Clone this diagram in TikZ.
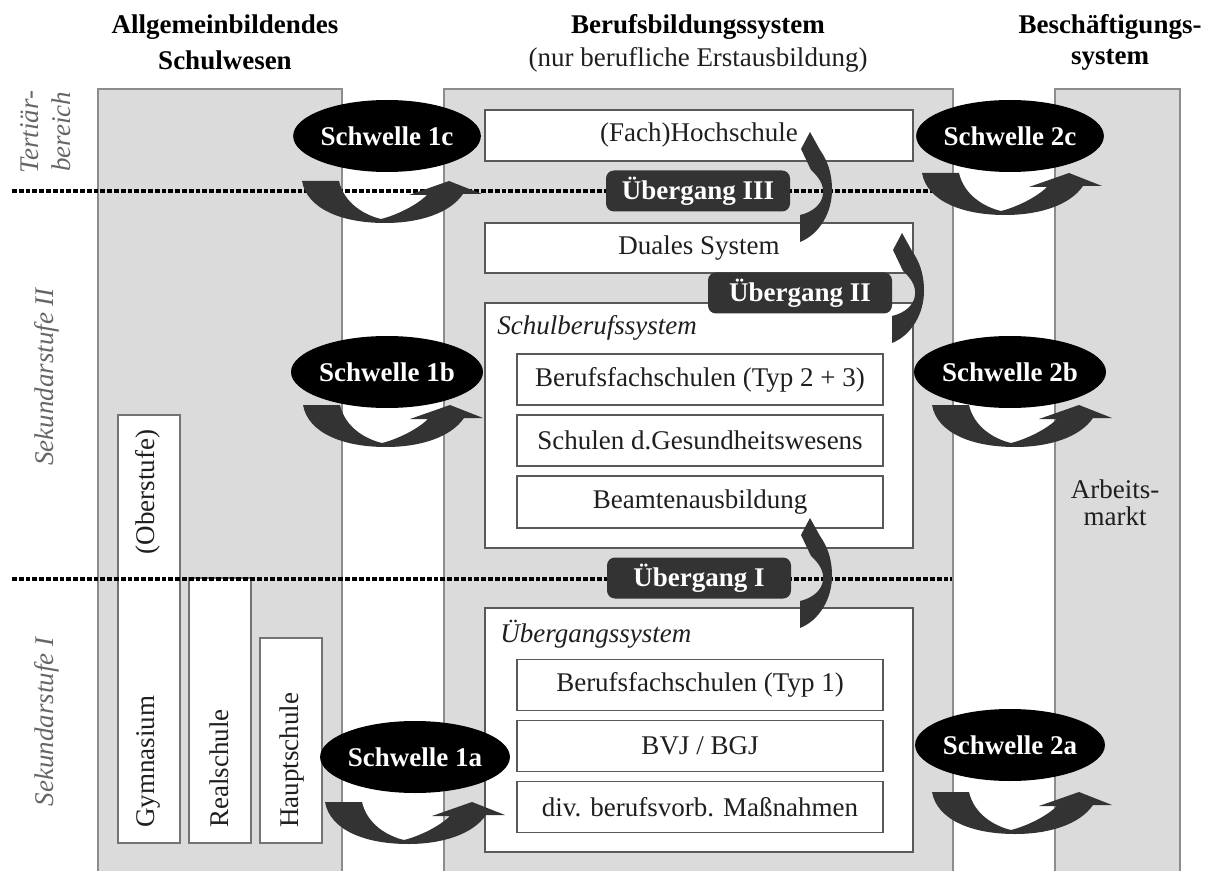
\documentclass[tikz,border=0pt]{standalone}
\usepackage{fontspec}
\setmainfont{Liberation Serif}
\usetikzlibrary{shapes.geometric}

\begin{document}
\begin{tikzpicture}[x=0.5pt,y=-0.5pt,
  every node/.style={font=\fontsize{13.5}{15}\selectfont,text=black!88,inner sep=0pt},
  column/.style={fill=black!14,draw=black!45,line width=0.8pt},
  box/.style={draw=black!65,fill=white,line width=0.6pt,
    minimum width=214pt,minimum height=25.5pt},
  subbox/.style={box,minimum width=183pt},
  schoolbox/.style={draw=black!55,fill=white,line width=0.6pt,minimum width=31pt},
  schwelle/.style={ellipse,fill=black,text=white,
    font=\fontsize{13.5}{15}\selectfont\bfseries,
    minimum width=87.5pt,minimum height=36pt},
  uebergang/.style={fill=black!80,rounded corners=4pt,text=white,
    font=\fontsize{13.5}{15}\selectfont\bfseries,
    minimum width=92pt,minimum height=20.5pt},
  stage/.style={rotate=90,align=center,text=black!60,
    font=\fontsize{13.5}{16}\selectfont\itshape},
  head/.style={font=\fontsize{13.5}{15}\selectfont\bfseries,text=black},
  dots/.style={line width=1.7pt,dash pattern=on 2.4pt off 1pt},
  uarrow/.pic={
    \fill[black!80] (0,0) -- (37,0) .. controls (42,22) and (62,34) .. (79,38)
      .. controls (95,34) and (115,24) .. (125,14) -- (107,14) -- (147,0)
      -- (180,13) -- (161,13) .. controls (148,32) and (118,42) .. (83,42)
      .. controls (40,42) and (5,28) .. (0,0) -- cycle;},
  varrow/.pic={
    \fill[black!80] (0,0) .. controls (20,-8) and (32,-30) .. (32,-52)
      .. controls (32,-70) and (27,-82) .. (20,-92) -- (10,-110) -- (1,-93)
      -- (11,-72) .. controls (20,-64) and (24,-56) .. (23,-48)
      .. controls (22,-38) and (13,-30) .. (0,-27) -- cycle;}]

  \useasboundingbox (0,0) rectangle (1209,871);
  \clip (0,0) rectangle (1209,871);

  % columns
  \draw[column] (98,89) rectangle (342,890);
  \draw[column] (444,89) rectangle (953,890);
  \draw[column] (1055,89) rectangle (1180,890);

  % headings
  \node[head] (allg1) at (225,27) {Allgemeinbildendes};
  \node[head] (allg2) at (225,60) {Schulwesen};
  \node[head] (beruf1) at (698,27) {Berufsbildungssystem};
  \node[] (beruf2) at (698,60) {(nur berufliche Erstausbildung)};
  \node[head] (besch1) at (1110,27) {Beschäftigungs-};
  \node[head] (besch2) at (1110,60) {system};

  % stages
  \node[stage] (tertiaer) at (46,132) {Tertiär-\\bereich};
  \node[stage] (sek2) at (47,377) {Sekundarstufe II};
  \node[stage] (sek1) at (47,722) {Sekundarstufe I};

  % general schools
  \node[schoolbox,minimum height=214pt] (gym) at (149,629) {};
  \node[schoolbox,minimum height=132.5pt] (real) at (220,710.5) {};
  \node[schoolbox,minimum height=102.5pt] (haupt) at (291,740.5) {};
  \node[rotate=90] (oberstufe) at (148,492) {(Oberstufe)};
  \node[rotate=90,anchor=west] (gymtext) at (148,828) {Gymnasium};
  \node[rotate=90,anchor=west] (realtext) at (219,828) {Realschule};
  \node[rotate=90,anchor=west] (hauptext) at (292,828) {Hauptschule};

  % vocational training
  \node[box] (hochschule) at (699,135.5) {(Fach)Hochschule};
  \node[box,minimum height=25pt] (dual) at (699,248) {Duales System};
  \node[box,minimum height=122.5pt] (schulberuf) at (699,425.5) {};
  \node[anchor=west,font=\fontsize{13.5}{15}\selectfont\itshape]
    (schulberuftitel) at (497,328) {Schulberufssystem};
  \node[subbox] (bfs23) at (700,379.5) {Berufsfachschulen (Typ 2 + 3)};
  \node[subbox] (gesund) at (700,440.5) {Schulen d.Gesundheitswesens};
  \node[subbox,minimum height=26pt] (beamte) at (700,502) {Beamtenausbildung};
  \node[box,minimum height=122pt] (uesystem) at (699,730) {};
  \node[anchor=west,font=\fontsize{13.5}{15}\selectfont\itshape]
    (uesystemtitel) at (500,634) {Übergangssystem};
  \node[subbox] (bfs1) at (700,685) {Berufsfachschulen (Typ 1)};
  \node[subbox] (bvj) at (700,746) {BVJ / BGJ};
  \node[subbox] (divmass) at (700,807) {div. berufsvorb. Maßnahmen};

  % labour market
  \node[align=center,font=\fontsize{13.5}{13.5}\selectfont] (markt) at (1115,503)
    {Arbeits-\\markt};

  % stage borders
  \draw[dots] (12,191) -- (935,191);
  \draw[dots] (12,579) -- (952,579);

  % transitions
  \node[uebergang] (ue3) at (698,191) {Übergang III};
  \node[uebergang] (ue2) at (800,293) {Übergang II};
  \node[uebergang] (ue1) at (699,578) {Übergang I};
  \pic at (800,242) {varrow};
  \pic at (892,343) {varrow};
  \pic at (800,628) {varrow};

  % thresholds
  \node[schwelle] (s1c) at (387,136) {Schwelle 1c};
  \node[schwelle] (s2c) at (1010,136) {Schwelle 2c};
  \node[schwelle] (s1b) at (387,372) {Schwelle 1b};
  \node[schwelle] (s2b) at (1010,372) {Schwelle 2b};
  \node[schwelle] (s1a) at (415,757) {Schwelle 1a};
  \node[schwelle] (s2a) at (1010,745) {Schwelle 2a};
  \pic at (302,181) {uarrow};
  \pic at (922,173) {uarrow};
  \pic at (303,405) {uarrow};
  \pic at (932,405) {uarrow};
  \pic at (325,802) {uarrow};
  \pic at (932,792) {uarrow};

\end{tikzpicture}
\end{document}
